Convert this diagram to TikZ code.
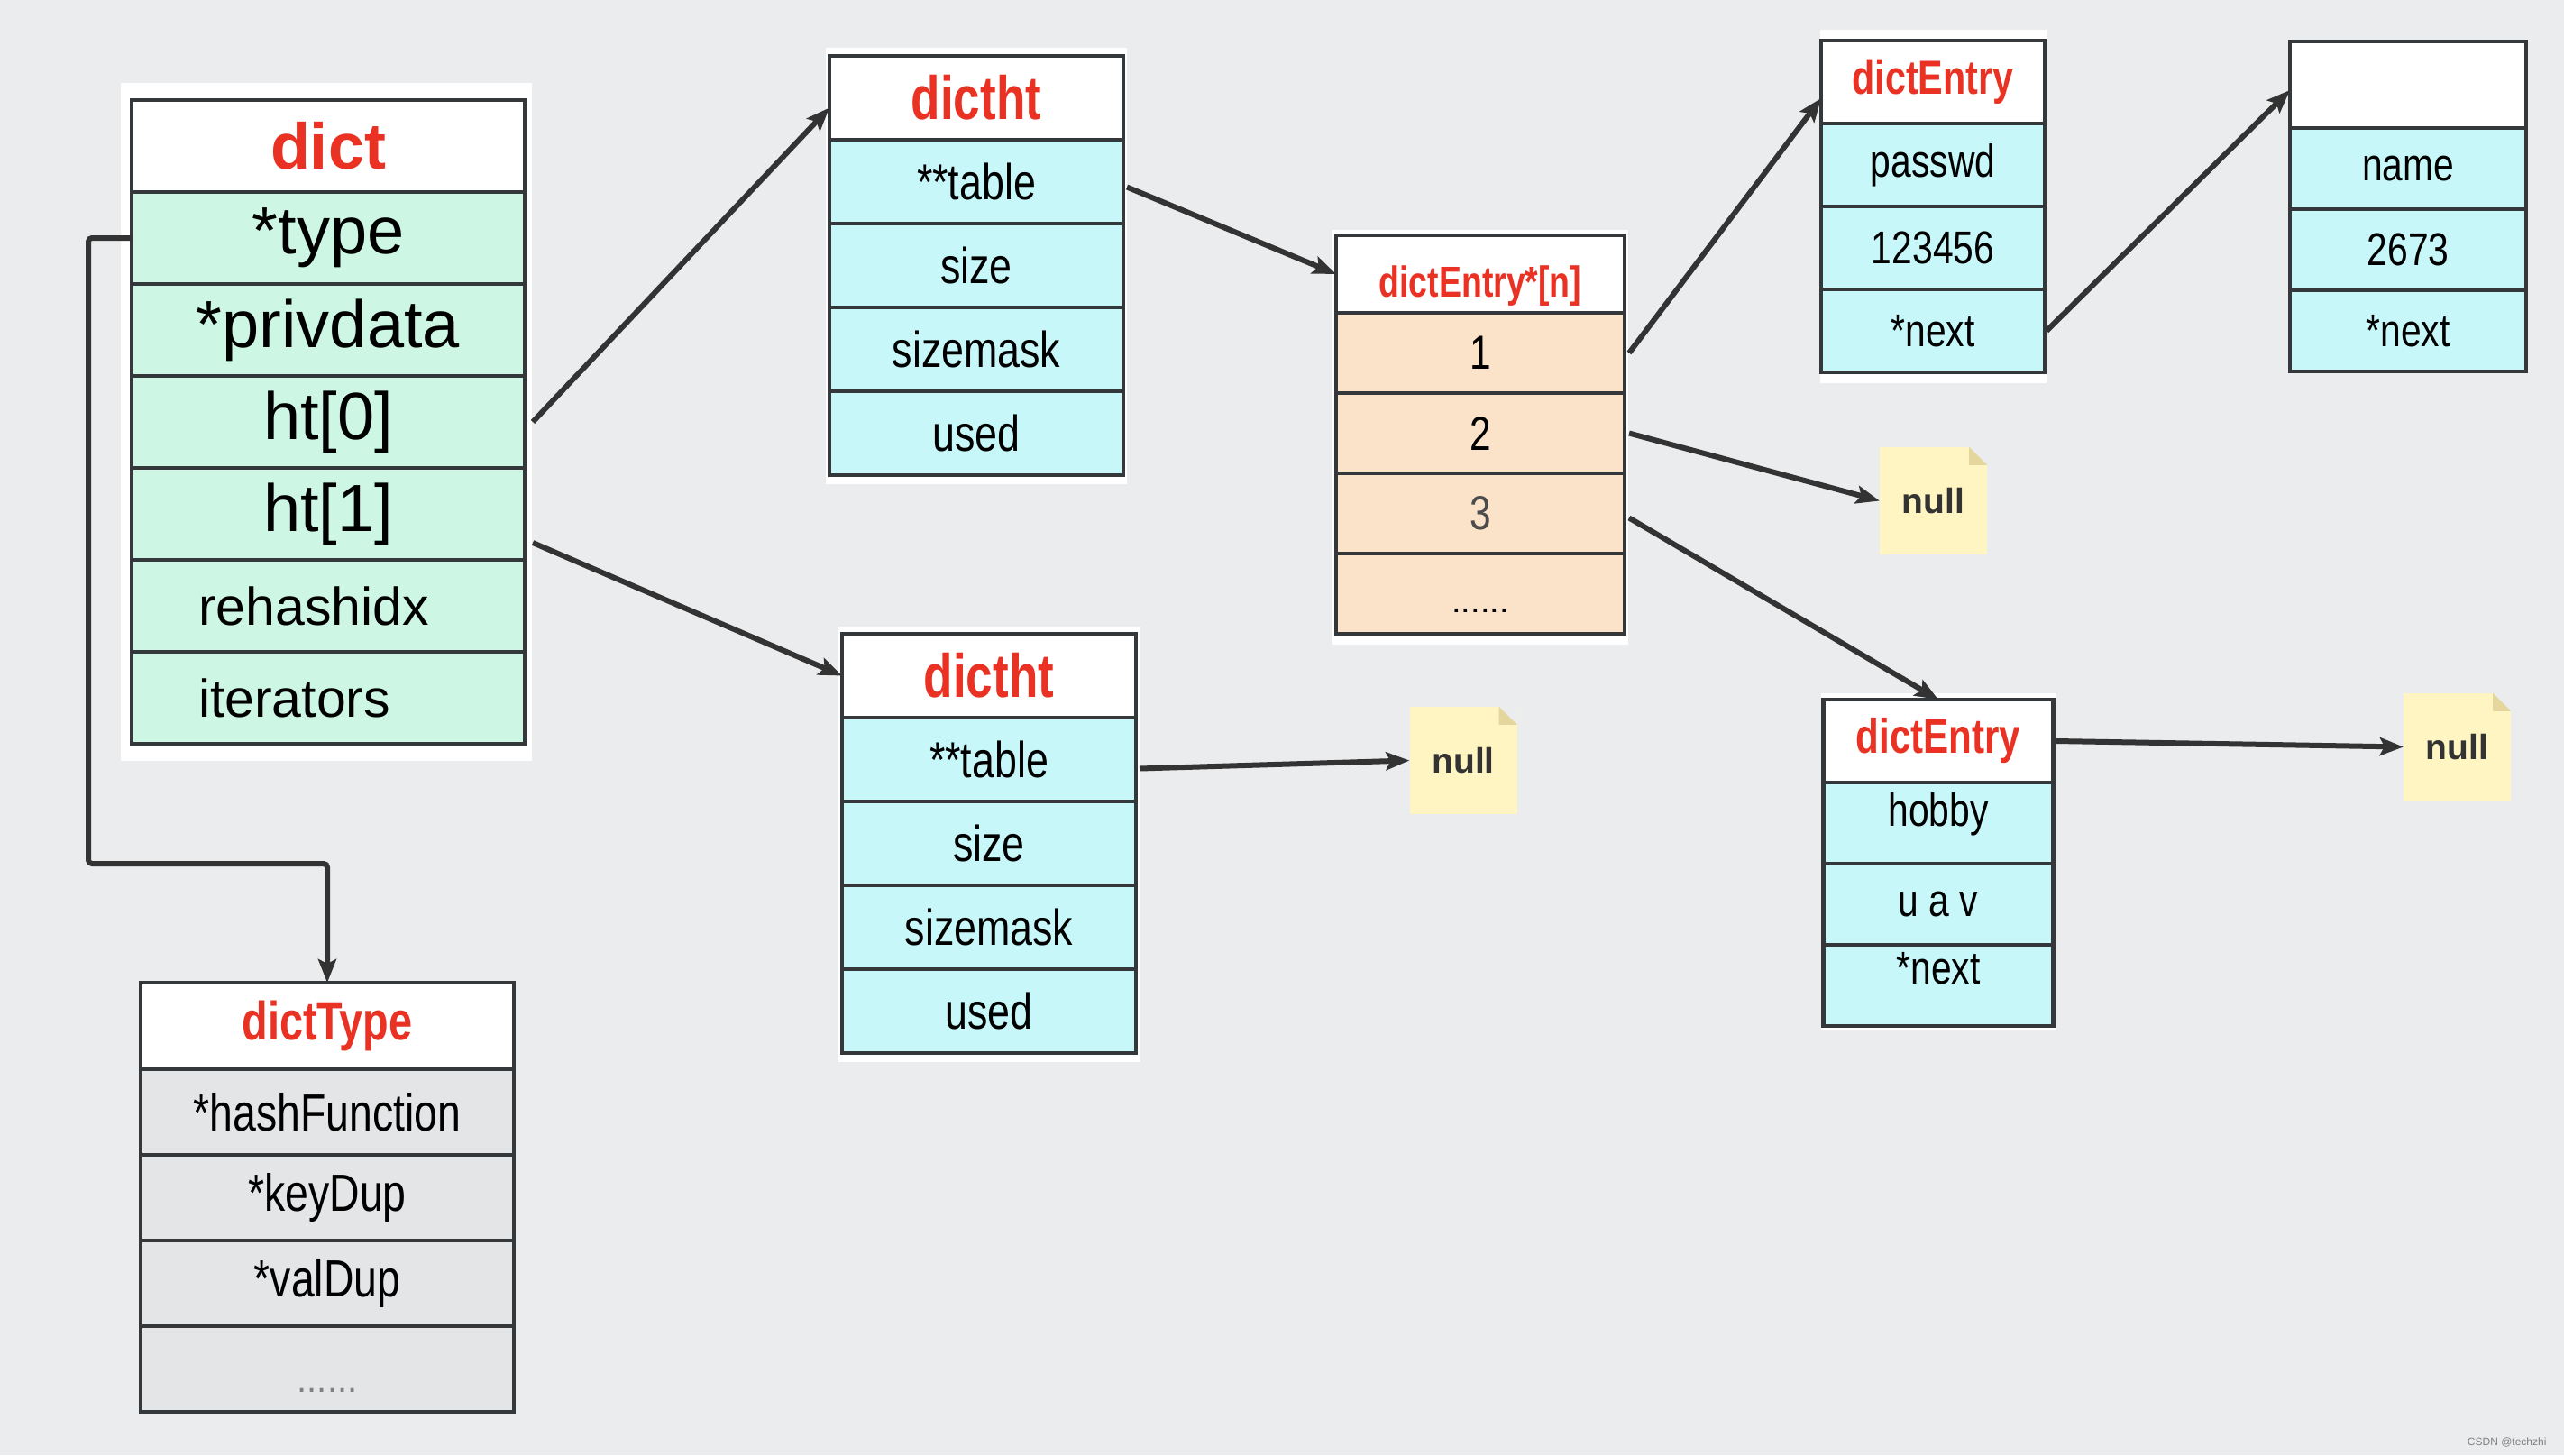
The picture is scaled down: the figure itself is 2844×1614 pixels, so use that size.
\documentclass[tikz,border=0pt]{standalone}
\usepackage{tikz}
\usetikzlibrary{arrows.meta}
\usepackage{fontspec}
\setmainfont{Liberation Sans}
\newfontfamily\narrowfont[FakeStretch=0.8]{Liberation Sans}
\newfontfamily\hdrfont[FakeStretch=0.78]{Liberation Sans}
\newfontfamily\ghostfont[FakeStretch=0.83]{Liberation Serif}
\definecolor{paper}{RGB}{235,236,238}
\definecolor{linec}{RGB}{52,56,58}
\definecolor{linkc}{RGB}{51,51,51}
\definecolor{headred}{RGB}{233,50,36}
\definecolor{mint}{RGB}{205,246,228}
\definecolor{cyancell}{RGB}{200,247,249}
\definecolor{peach}{RGB}{251,227,201}
\definecolor{graycell}{RGB}{228,229,231}
\definecolor{notey}{RGB}{255,245,195}
\definecolor{foldc}{RGB}{228,214,156}

\begin{document}
\begin{tikzpicture}[x=1pt,y=-1pt,
	cellbox/.style n args={3}{draw=linec, line width=4.5pt, outer sep=0pt, inner sep=0pt, minimum width=#1, minimum height=#2, fill=#3},
	headbox/.style n args={3}{cellbox={#1}{#2}{white}, text=headred, font=\hdrfont\bfseries\fontsize{#3}{#3}\selectfont},
	dictrow/.style={cellbox={436pt}{102pt}{mint}, font=\fontsize{74}{80}\selectfont},
	dictsmall/.style={cellbox={436pt}{102pt}{mint}, font=\fontsize{59}{64}\selectfont, text width=288pt, inner xsep=74pt, align=left},
	typerow/.style={cellbox={414pt}{95pt}{graycell}, font=\narrowfont\fontsize{58}{62}\selectfont},
	htrow/.style={cellbox={326pt}{93pt}{cyancell}, font=\narrowfont\fontsize{56}{60}\selectfont},
	tblrow/.style={cellbox={320pt}{89pt}{peach}, font=\narrowfont\fontsize{53}{58}\selectfont},
	entryrow/.style 2 args={cellbox={#1}{#2}{cyancell}, font=\narrowfont\fontsize{51}{56}\selectfont},
	nullnote/.style={fill=notey, minimum width=119pt, minimum height=119pt, inner sep=0pt, text=linkc, font=\bfseries\fontsize{39}{40}\selectfont},
	link/.style={draw=linkc, line width=6pt, -{Stealth[length=26pt, width=20pt, inset=5pt]}}]
	% 背景
	\fill[paper] (0,0) rectangle (2844,1614);
	\useasboundingbox (0,0) rectangle (2844,1614);
	% 白色底板
	\fill[white] (134,92) rectangle (590,844);
	\fill[white] (916,53) rectangle (1250,537);
	\fill[white] (930,695) rectangle (1265,1178);
	\fill[white] (1478,255) rectangle (1806,715);
	\fill[white] (2019,33) rectangle (2270,425);
	\fill[white] (2020,769) rectangle (2281,1143);
	% dict
	\node[headbox={436pt}{102pt}{72}, font=\bfseries\fontsize{72}{72}\selectfont] (dict) at (364,162) {dict};
	\node[dictrow] (dict-type) at (364,264) {*type};
	\node[dictrow] (dict-priv) at (364,366) {*privdata};
	\node[dictrow] (dict-ht0) at (364,468) {ht[0]};
	\node[dictrow] (dict-ht1) at (364,570) {ht[1]};
	\node[dictsmall] (dict-rehash) at (364,672) {rehashidx};
	\node[dictsmall] (dict-iter) at (364,774) {iterators};
	% dictType
	\node[headbox={414pt}{96pt}{60}] (dtype) at (363,1138) {dictType};
	\node[typerow] (dtype-hash) at (363,1233.5) {*hashFunction};
	\node[typerow] (dtype-key) at (363,1328.5) {*keyDup};
	\node[typerow] (dtype-val) at (363,1423.5) {*valDup};
	\node[typerow, text=gray, font=\fontsize{40}{40}\selectfont, text height=52pt, text depth=0pt] (dtype-more) at (363,1518.5) {......};
	% dictht ht[0]
	\node[headbox={326pt}{93pt}{68}] (hta) at (1083,108.5) {dictht};
	\node[htrow] (hta-table) at (1083,201.5) {**table};
	\node[htrow] (hta-size) at (1083,294.5) {size};
	\node[htrow] (hta-mask) at (1083,387.5) {sizemask};
	\node[htrow] (hta-used) at (1083,480.5) {used};
	% dictht ht[1]
	\node[headbox={326pt}{93pt}{68}] (htb) at (1097,749.5) {dictht};
	\node[htrow] (htb-table) at (1097,842.5) {**table};
	\node[htrow] (htb-size) at (1097,935.5) {size};
	\node[htrow] (htb-mask) at (1097,1028.5) {sizemask};
	\node[htrow] (htb-used) at (1097,1121.5) {used};
	% dictEntry*[n]
	\node[headbox={320pt}{86pt}{48}, text height=61pt, text depth=10pt] (tbl) at (1642,304) {dictEntry*[n]};
	\node[tblrow] (tbl-1) at (1642,391.5) {1};
	\node[tblrow] (tbl-2) at (1642,480.5) {2};
	\node[tblrow, text=black!70] (tbl-3) at (1642,569.5) {3};
	\node[tblrow, font=\fontsize{38}{38}\selectfont, text height=42pt, text depth=0pt] (tbl-more) at (1642,658.5) {......};
	% dictEntry passwd
	\node[headbox={248pt}{92pt}{53}] (ea) at (2144,91) {dictEntry};
	\node[entryrow={248pt}{92pt}] (ea-key) at (2144,183) {passwd};
	\node[entryrow={248pt}{92pt}] (ea-val) at (2144,275) {123456};
	\node[entryrow={248pt}{92pt}] (ea-next) at (2144,367) {*next};
	% dictEntry name
	\node[headbox={262pt}{96pt}{73}, text=white, font=\ghostfont\fontsize{73}{73}\selectfont] (ec) at (2671,94) {dictEntry};
	\node[entryrow={262pt}{90pt}] (ec-key) at (2671,187) {name};
	\node[entryrow={262pt}{90pt}] (ec-val) at (2671,277) {2673};
	\node[entryrow={262pt}{90pt}] (ec-next) at (2671,367) {*next};
	% dictEntry hobby
	\node[headbox={255pt}{92pt}{54}] (eb) at (2150,822) {dictEntry};
	\node[entryrow={255pt}{90pt}, text height=37pt, text depth=31pt] (eb-key) at (2150,913) {hobby};
	\node[entryrow={255pt}{90pt}] (eb-val) at (2150,1003) {u a v};
	\node[entryrow={255pt}{90pt}, text height=37pt, text depth=40pt] (eb-next) at (2150,1093) {*next};
	% null
	\node[nullnote] (nulla) at (2144.5,555.5) {null};
	\node[nullnote] (nullb) at (1623,843.5) {null};
	\node[nullnote] (nullc) at (2725.5,828.5) {null};
	% 折角
	\fill[paper] (nulla.north east) -- ++(-20,0) -- ++(20,20) -- cycle;
	\fill[foldc] ([xshift=-20pt]nulla.north east) -- ++(0,20) -- ++(20,0) -- cycle;
	\fill[paper] (nullb.north east) -- ++(-20,0) -- ++(20,20) -- cycle;
	\fill[foldc] ([xshift=-20pt]nullb.north east) -- ++(0,20) -- ++(20,0) -- cycle;
	\fill[paper] (nullc.north east) -- ++(-20,0) -- ++(20,20) -- cycle;
	\fill[foldc] ([xshift=-20pt]nullc.north east) -- ++(0,20) -- ++(20,0) -- cycle;
	% 箭头
	\draw[link, rounded corners=4pt] (dict-type.west) -- ++(-48,0) |- ([yshift=132pt]dtype.north) -- (dtype.north);
	\draw[link] ([xshift=9pt]dict-ht0.east) -- ([yshift=-11pt]hta.west);
	\draw[link] ([xshift=9pt,yshift=-32pt]dict-ht1.east) -- (htb.west);
	\draw[link] ([xshift=4pt,yshift=-6pt]hta-table.east) -- (tbl.west);
	\draw[link] ([xshift=5pt]tbl-1.east) -- ([yshift=-18pt]ea.west);
	\draw[link] ([xshift=5pt]tbl-2.east) -- (nulla.west);
	\draw[link] ([xshift=5pt,yshift=-5pt]tbl-3.east) -- (eb.north);
	\draw[link] ([xshift=2pt]ea-next.east) -- ([yshift=-6pt]ec.west);
	\draw[link] ([xshift=4pt,yshift=-10pt]htb-table.east) -- (nullb.west);
	\draw[link] ([xshift=3pt]eb.east) -- (nullc.west);
	% 水印
	\node[anchor=east, text=gray, font=\fontsize{12}{12}\selectfont] (mark) at (2828,1600) {CSDN @techzhi};
\end{tikzpicture}
\end{document}
